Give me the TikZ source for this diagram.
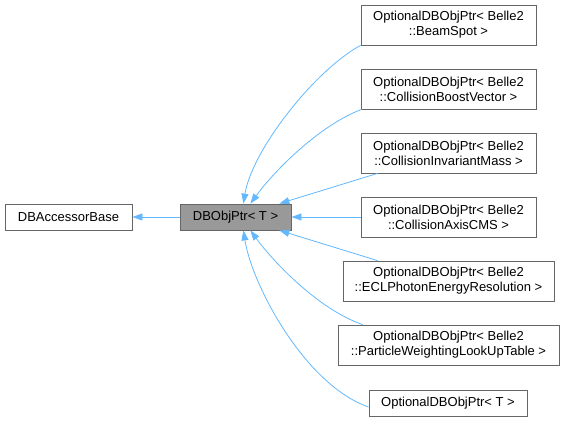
\documentclass[tikz,border=0pt]{standalone}
\usepackage{fontspec}
\setmainfont{Liberation Sans}
\usetikzlibrary{arrows.meta}
\definecolor{edgeblue}{HTML}{63B8FF}
\definecolor{boxgray}{HTML}{666666}
\definecolor{ptrfill}{HTML}{999999}
\begin{document}
\begin{tikzpicture}[x=1pt,y=-1pt]
			\tikzset{box/.style={rectangle, draw=boxgray, line width=0.8pt, fill=white, align=center, inner sep=0pt, minimum height=40pt, font=\fontsize{13}{15}\selectfont},
				edge/.style={draw=edgeblue, line width=0.8pt, -{Triangle[length=10pt,width=7pt]}}};
			\useasboundingbox (0,0) rectangle (564,421);
			\node[box,minimum width=127pt,minimum height=26pt] (base) at (68.5,217) {DBAccessorBase};
			\node[box,fill=ptrfill,minimum width=111pt,minimum height=26pt] (ptr) at (235.5,217) {DBObjPtr< T >};
			\node[box,minimum width=175pt] (beam) at (448.5,25) {OptionalDBObjPtr< Belle2\\::BeamSpot >};
			\node[box,minimum width=175pt] (boost) at (448.5,89) {OptionalDBObjPtr< Belle2\\::CollisionBoostVector >};
			\node[box,minimum width=175pt] (mass) at (448.5,153) {OptionalDBObjPtr< Belle2\\::CollisionInvariantMass >};
			\node[box,minimum width=175pt] (axis) at (448.5,217) {OptionalDBObjPtr< Belle2\\::CollisionAxisCMS >};
			\node[box,minimum width=211pt] (ecl) at (448.5,281) {OptionalDBObjPtr< Belle2\\::ECLPhotonEnergyResolution >};
			\node[box,minimum width=221pt] (weight) at (448.5,345) {OptionalDBObjPtr< Belle2\\::ParticleWeightingLookUpTable >};
			\node[box,minimum width=158pt,minimum height=26pt] (opt) at (448,403) {OptionalDBObjPtr< T >};

			\draw[edge] (ptr) -- (base);

			\draw[edge] (beam.south west) .. controls (315,70) and (252,150) .. ([xshift=-48pt]ptr.north east);
			\draw[edge] ([xshift=1pt]boost.south west) .. controls (320,125) and (275,170) .. ([xshift=-41pt]ptr.north east);
			\draw[edge] ([xshift=17pt]mass.south west) -- ([xshift=-12pt]ptr.north east);
			\draw[edge] (axis) -- (ptr);
			\draw[edge] ([xshift=35pt]ecl.north west) -- ([xshift=-12pt]ptr.south east);
			\draw[edge] ([xshift=25pt]weight.north west) .. controls (320,310) and (275,264) .. ([xshift=-41pt]ptr.south east);
			\draw[edge] ([yshift=-4pt]opt.west) .. controls (305,385) and (252,285) .. ([xshift=-48pt]ptr.south east);
		\end{tikzpicture}
\end{document}
